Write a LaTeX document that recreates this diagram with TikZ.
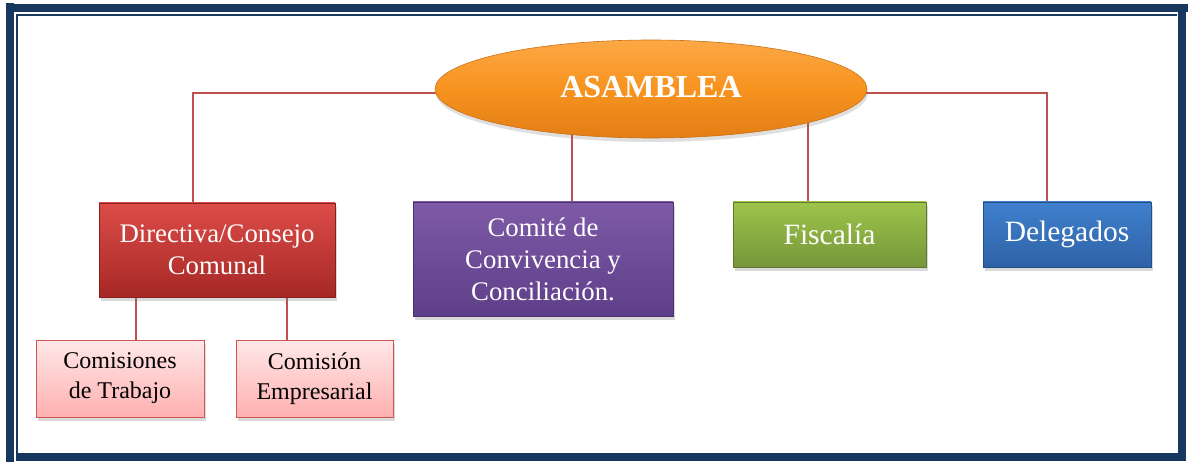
\documentclass[tikz,border=0pt]{standalone}
\usepackage{fontspec}
\setmainfont{Liberation Serif}
\usetikzlibrary{shapes.geometric,shadows,backgrounds}
\definecolor{navy}{RGB}{23,55,94}
\definecolor{connred}{RGB}{192,80,77}
\definecolor{dirtop}{RGB}{220,76,72}
\definecolor{dirbot}{RGB}{166,40,38}
\definecolor{pinktop}{RGB}{255,232,232}
\definecolor{pinkbot}{RGB}{255,176,176}
\definecolor{pinkdraw}{RGB}{208,84,82}
\definecolor{purtop}{RGB}{126,90,167}
\definecolor{purbot}{RGB}{94,63,136}
\definecolor{grntop}{RGB}{158,196,74}
\definecolor{grnbot}{RGB}{118,150,58}
\definecolor{blutop}{RGB}{64,128,206}
\definecolor{blubot}{RGB}{46,98,166}
\definecolor{orgtop}{RGB}{252,168,70}
\definecolor{orgmid}{RGB}{247,147,30}
\definecolor{orgbot}{RGB}{226,126,22}
\tikzset{
  conn/.style={draw=connred, line width=2pt},
  boxbase/.style={rectangle, inner sep=0pt, align=center,
    drop shadow={opacity=0.3, shadow xshift=2pt, shadow yshift=-4pt}},
  bigbox/.style={boxbase, text=white, font=\fontsize{26.8}{32}\selectfont},
  onebox/.style={boxbase, text=white, font=\fontsize{29.5}{34}\selectfont},
  smallbox/.style={boxbase, text=black, font=\fontsize{24}{30}\selectfont,
    top color=pinktop, bottom color=pinkbot, draw=pinkdraw, line width=1pt},
  framefill/.style={fill=navy, draw=none}
}
\begin{document}
\begin{tikzpicture}[x=1pt,y=-1pt]
\useasboundingbox (0,0) rectangle (1188,462);
% main node
\node[ellipse, minimum width=432pt, minimum height=98pt, inner sep=0pt,
  top color=orgtop, bottom color=orgbot, middle color=orgmid,
  draw=orgbot!90!black, line width=0.6pt, text=white,
  font=\fontsize{32}{36}\selectfont\bfseries,
  drop shadow={opacity=0.25, shadow xshift=1pt, shadow yshift=-4pt}]
  (asm) at (651,89) {\raisebox{5pt}{ASAMBLEA}};
% boxes
\node[bigbox, top color=dirtop, bottom color=dirbot, draw=dirbot!80!black,
  minimum width=236pt, minimum height=94pt] (dir) at (217,250)
  {Directiva/Consejo\\Comunal};
\node[smallbox, minimum width=168pt, minimum height=77pt] (cs) at (120,378.5)
  {Comisiones\\de Trabajo};
\node[smallbox, minimum width=157pt, minimum height=77pt] (ce) at (314.5,378.5)
  {Comisión\\Empresarial};
\node[bigbox, top color=purtop, bottom color=purbot, draw=purbot!80!black,
  minimum width=260pt, minimum height=114pt] (com) at (543,259)
  {Comité de\\Convivencia y\\Conciliación.};
\node[onebox, top color=grntop, bottom color=grnbot, draw=grnbot!80!black,
  minimum width=193pt, minimum height=65pt] (fis) at (829.5,234.5) {Fiscalía};
\node[onebox, top color=blutop, bottom color=blubot, draw=blubot!80!black,
  minimum width=168pt, minimum height=65pt] (del) at (1067,234.5) {Delegados};
% connectors
\begin{pgfonlayer}{background}
\draw[conn] ([yshift=-4pt]asm.center) -| ([xshift=-24pt]dir.north);
\draw[conn] ([yshift=-4pt]asm.center) -| ([xshift=-20pt]del.north);
\draw[conn] ([xshift=-79pt]asm.center) -- ([xshift=29pt]com.north);
\draw[conn] ([xshift=157pt]asm.center) -- ([xshift=-21.5pt]fis.north);
\draw[conn] ([xshift=-81pt]dir.south) -- ([xshift=-81pt]dir.south |- cs.north);
\draw[conn] ([xshift=70pt]dir.south) -- ([xshift=70pt]dir.south |- ce.north);
\end{pgfonlayer}
% frame
\fill[framefill] (6,3) rectangle (14,462);
\fill[framefill] (6,4) rectangle (1188,12);
\fill[framefill] (1178,12) rectangle (1186,461);
\fill[framefill] (16,453) rectangle (1186,461);
\fill[framefill] (16,14) rectangle (18,453);
\fill[framefill] (16,14) rectangle (1177,16);
\end{tikzpicture}
\end{document}
